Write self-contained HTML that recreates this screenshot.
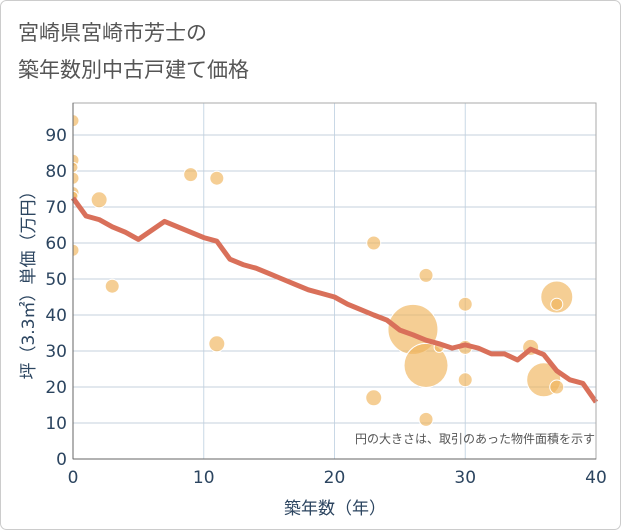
<!DOCTYPE html>
<html><head><meta charset="utf-8"><style>
body{margin:0;background:#fff}
svg{display:block;font-family:"DejaVu Sans","Noto Sans CJK JP",sans-serif}
</style></head><body>
<svg width="621" height="530">
<defs><clipPath id="pc"><rect x="73" y="103" width="523" height="356"/></clipPath></defs>
<rect x="0.5" y="0.5" width="620" height="529" rx="6" fill="#fff" stroke="#ccc"/>
<text x="18" y="40" font-size="21" fill="#555">宮崎県宮崎市芳士の</text>
<text x="18" y="77" font-size="21" fill="#555">築年数別中古戸建て価格</text>
<g id="grid"></g>
<g id="bubbles" clip-path="url(#pc)"></g>
<g id="line"></g>
<rect x="73" y="103" width="523" height="356" fill="none" stroke="#aaa"/>
<line x1="73" y1="103" x2="73" y2="459" stroke="#666"/>
<line x1="73" y1="459" x2="596" y2="459" stroke="#666"/>
<g id="ticks"></g>
<text x="595" y="443" font-size="12" fill="#555" text-anchor="end">円の大きさは、取引のあった物件面積を示す</text>
<text x="335" y="514" font-size="17" fill="#2c4560" text-anchor="middle">築年数（年）</text>
<text transform="translate(34,281) rotate(-90)" font-size="17" fill="#2c4560" text-anchor="middle">坪（3.3㎡）単価（万円）</text>
</svg>
<script>
const xTicks=[0,10,20,30,40];
const yTicks=[0,10,20,30,40,50,60,70,80,90];
const lineYears=[0,1,2,3,4,5,6,7,8,9,10,11,12,13,14,15,16,17,18,19,20,21,22,23,24,25,26,27,28,29,30,31,32,33,34,35,36,37,38,39,40];
const linePrices=[72.5,67.5,66.5,64.5,63,61,63.5,66,64.5,63,61.5,60.5,55.5,54,53,51.5,50,48.5,47,46,45,43,41.5,40,38.6,35.8,34.5,33,32,30.8,31.7,30.8,29.2,29.2,27.5,30.5,29,24.5,22,21,15.8];
const bubbleYears=[0,0,0,0,0,0,0,2,3,9,11,11,23,23,27,26,27,28,27,30,30,30,35,36,37,37,37];
const bubblePrices=[94,83,81,78,74,73,58,72,48,79,78,32,60,17,51,36,26,31,11,43,31,22,31,22,45,43,20];
const bubbleAreas=[36,36,25,36,36,25,36,64,49,49,49,64,49,64,49,625,484,25,49,49,49,49,64,289,256,36,49];
const X=v=>73+v*523/40, Y=v=>459-v*3.6;
const NS="http://www.w3.org/2000/svg";
function mk(t,a,p){const e=document.createElementNS(NS,t);for(const k in a)e.setAttribute(k,a[k]);document.getElementById(p).appendChild(e);return e;}
xTicks.forEach(t=>{
 const l=mk('line',{x1:X(t),x2:X(t),y1:103,y2:459,stroke:'#c9d8e6'},'grid');
 
 
 const s=mk('text',{x:X(t),y:483,'font-size':17,fill:'#2c4560','text-anchor':'middle'},'ticks');s.textContent=t;
 
 
});
yTicks.forEach(t=>{
 const l=mk('line',{x1:73,x2:596,y1:Y(t),y2:Y(t),stroke:'#c4d0dc'},'grid');
 
 
 const s=mk('text',{x:67,y:Y(t)+6,'font-size':17,fill:'#2c4560','text-anchor':'end'},'ticks');s.textContent=t;
 
 
});
bubbleYears.forEach((yr,i)=>{
 const c=mk('circle',{cx:X(yr),cy:Y(bubblePrices[i]),r:Math.sqrt(bubbleAreas[i]),fill:'rgba(240,180,90,0.65)',stroke:'#fff','stroke-width':1},'bubbles');
 
 
});
const p=mk('polyline',{points:lineYears.map((y,i)=>X(y)+','+Y(linePrices[i])).join(' '),fill:'none',stroke:'#d9705a','stroke-width':5,'stroke-linejoin':'round'},'line');


</script>
</body></html>
